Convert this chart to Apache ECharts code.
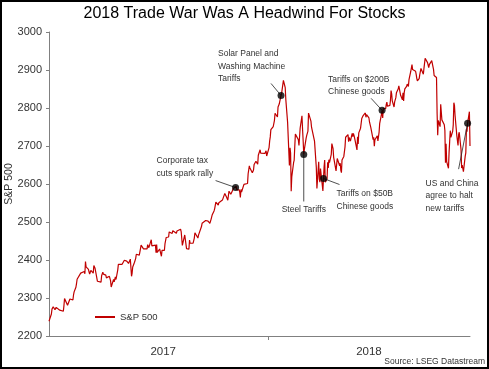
<!DOCTYPE html>
<html><head><meta charset="utf-8">
<script src="https://cdn.jsdelivr.net/npm/echarts@6/dist/echarts.min.js"></script>
<style>html,body{margin:0;padding:0;background:#fff}#c{width:489px;height:369px;position:absolute;left:0;top:0}#f{position:absolute;left:0;top:0;width:489px;height:369px;box-sizing:border-box;border:2px solid #000;pointer-events:none}</style>
</head><body><div id="c"></div><div id="f"></div>
<script>
const dates2016 = ['12-30'];
const closes2016 = [2238.83];
const dates2017 = [
'01-03','01-04','01-05','01-06','01-09','01-10','01-11','01-12','01-13','01-17','01-18','01-19','01-20','01-23','01-24','01-25','01-26','01-27','01-30','01-31',
'02-01','02-02','02-03','02-06','02-07','02-08','02-09','02-10','02-13','02-14','02-15','02-16','02-17','02-21','02-22','02-23','02-24','02-27','02-28',
'03-01','03-02','03-03','03-06','03-07','03-08','03-09','03-10','03-13','03-14','03-15','03-16','03-17','03-20','03-21','03-22','03-23','03-24','03-27','03-28','03-29','03-30','03-31',
'04-03','04-04','04-05','04-06','04-07','04-10','04-11','04-12','04-13','04-17','04-18','04-19','04-20','04-21','04-24','04-25','04-26','04-27','04-28',
'05-01','05-02','05-03','05-04','05-05','05-08','05-09','05-10','05-11','05-12','05-15','05-16','05-17','05-18','05-19','05-22','05-23','05-24','05-25','05-26','05-30','05-31',
'06-01','06-02','06-05','06-06','06-07','06-08','06-09','06-12','06-13','06-14','06-15','06-16','06-19','06-20','06-21','06-22','06-23','06-26','06-27','06-28','06-29','06-30',
'07-03','07-05','07-06','07-07','07-10','07-11','07-12','07-13','07-14','07-17','07-18','07-19','07-20','07-21','07-24','07-25','07-26','07-27','07-28','07-31',
'08-01','08-02','08-03','08-04','08-07','08-08','08-09','08-10','08-11','08-14','08-15','08-16','08-17','08-18','08-21','08-22','08-23','08-24','08-25','08-28','08-29','08-30','08-31',
'09-01','09-05','09-06','09-07','09-08','09-11','09-12','09-13','09-14','09-15','09-18','09-19','09-20','09-21','09-22','09-25','09-26','09-27','09-28','09-29',
'10-02','10-03','10-04','10-05','10-06','10-09','10-10','10-11','10-12','10-13','10-16','10-17','10-18','10-19','10-20','10-23','10-24','10-25','10-26','10-27','10-30','10-31',
'11-01','11-02','11-03','11-06','11-07','11-08','11-09','11-10','11-13','11-14','11-15','11-16','11-17','11-20','11-21','11-22','11-24','11-27','11-28','11-29','11-30',
'12-01','12-04','12-05','12-06','12-07','12-08','12-11','12-12','12-13','12-14','12-15','12-18','12-19','12-20','12-21','12-22','12-26','12-27','12-28','12-29'];
const closes2017 = [
2257.83,2270.75,2269.00,2276.98,2268.90,2268.90,2275.32,2270.44,2274.64,2267.89,2271.89,2263.69,2271.31,2265.20,2280.07,2298.37,2296.68,2294.69,2280.90,2278.87,
2279.55,2280.85,2297.42,2292.56,2293.08,2294.67,2307.87,2316.10,2328.25,2337.58,2349.25,2347.22,2351.16,2365.38,2362.82,2363.81,2367.34,2369.75,2363.64,
2395.96,2381.92,2383.12,2375.31,2368.39,2362.98,2364.87,2372.60,2373.47,2365.45,2385.26,2381.38,2378.25,2373.47,2344.02,2348.45,2345.96,2343.98,2341.59,2358.57,2361.13,2368.06,2362.72,
2358.84,2360.16,2352.95,2357.49,2355.54,2357.16,2353.78,2344.93,2328.95,2349.01,2342.19,2338.17,2355.84,2348.69,2374.15,2388.61,2387.45,2388.77,2384.20,
2388.33,2391.17,2388.13,2389.52,2399.29,2399.38,2396.92,2399.63,2394.44,2390.90,2402.32,2400.67,2357.03,2365.72,2381.73,2394.02,2398.42,2404.39,2415.07,2415.82,2412.91,2411.80,
2430.06,2439.07,2436.10,2429.33,2433.14,2433.79,2431.77,2429.39,2440.35,2437.92,2432.46,2433.15,2453.46,2437.03,2435.61,2434.50,2438.30,2439.07,2419.38,2440.69,2419.70,2423.41,
2429.01,2432.54,2409.75,2425.18,2427.43,2425.53,2443.25,2447.83,2459.27,2459.14,2460.61,2473.83,2473.45,2472.54,2469.91,2477.13,2477.83,2475.42,2472.10,2470.30,
2476.35,2477.57,2472.16,2476.83,2480.91,2474.92,2474.02,2438.21,2441.32,2465.84,2464.61,2468.11,2430.01,2425.55,2428.37,2452.51,2444.04,2438.97,2443.05,2444.24,2446.30,2457.59,2471.65,
2476.55,2457.85,2465.54,2465.10,2461.43,2488.11,2496.48,2498.37,2495.62,2500.23,2503.87,2506.65,2508.24,2500.60,2502.22,2496.66,2496.84,2507.04,2510.06,2519.36,
2529.12,2534.58,2537.74,2552.07,2549.33,2544.73,2550.64,2555.24,2550.93,2553.17,2557.64,2559.36,2561.26,2562.10,2575.21,2564.98,2569.13,2557.15,2560.40,2581.07,2572.83,2575.26,
2579.36,2579.85,2587.84,2591.13,2590.64,2594.38,2584.62,2582.30,2584.84,2578.87,2564.62,2585.64,2578.85,2582.14,2599.03,2597.08,2602.42,2601.42,2627.04,2626.07,2647.58,
2642.22,2639.44,2629.57,2629.27,2636.98,2651.50,2659.99,2664.11,2662.85,2652.01,2675.81,2690.16,2681.47,2679.25,2684.57,2683.34,2680.50,2682.62,2687.54,2673.61];
const dates2018 = [
'01-02','01-03','01-04','01-05','01-08','01-09','01-10','01-11','01-12','01-16','01-17','01-18','01-19','01-22','01-23','01-24','01-25','01-26','01-29','01-30','01-31',
'02-01','02-02','02-05','02-06','02-07','02-08','02-09','02-12','02-13','02-14','02-15','02-16','02-20','02-21','02-22','02-23','02-26','02-27','02-28',
'03-01','03-02','03-05','03-06','03-07','03-08','03-09','03-12','03-13','03-14','03-15','03-16','03-19','03-20','03-21','03-22','03-23','03-26','03-27','03-28','03-29',
'04-02','04-03','04-04','04-05','04-06','04-09','04-10','04-11','04-12','04-13','04-16','04-17','04-18','04-19','04-20','04-23','04-24','04-25','04-26','04-27','04-30',
'05-01','05-02','05-03','05-04','05-07','05-08','05-09','05-10','05-11','05-14','05-15','05-16','05-17','05-18','05-21','05-22','05-23','05-24','05-25','05-29','05-30','05-31',
'06-01','06-04','06-05','06-06','06-07','06-08','06-11','06-12','06-13','06-14','06-15','06-18','06-19','06-20','06-21','06-22','06-25','06-26','06-27','06-28','06-29',
'07-02','07-03','07-05','07-06','07-09','07-10','07-11','07-12','07-13','07-16','07-17','07-18','07-19','07-20','07-23','07-24','07-25','07-26','07-27','07-30','07-31',
'08-01','08-02','08-03','08-06','08-07','08-08','08-09','08-10','08-13','08-14','08-15','08-16','08-17','08-20','08-21','08-22','08-23','08-24','08-27','08-28','08-29','08-30','08-31',
'09-04','09-05','09-06','09-07','09-10','09-11','09-12','09-13','09-14','09-17','09-18','09-19','09-20','09-21','09-24','09-25','09-26','09-27','09-28',
'10-01','10-02','10-03','10-04','10-05','10-08','10-09','10-10','10-11','10-12','10-15','10-16','10-17','10-18','10-19','10-22','10-23','10-24','10-25','10-26','10-29','10-30','10-31',
'11-01','11-02','11-05','11-06','11-07','11-08','11-09','11-12','11-13','11-14','11-15','11-16','11-19','11-20','11-21','11-23','11-26','11-27','11-28','11-29','11-30',
'12-03','12-04'];
const closes2018 = [
2695.81,2713.06,2723.99,2743.15,2747.71,2751.29,2748.23,2767.56,2786.24,2776.42,2802.56,2798.03,2810.30,2832.97,2839.13,2837.54,2839.25,2872.87,2853.53,2822.43,2823.81,
2821.98,2762.13,2648.94,2695.14,2681.66,2581.00,2619.55,2656.00,2662.94,2698.63,2731.20,2732.22,2716.26,2701.33,2703.96,2747.30,2779.60,2744.28,2713.83,
2677.67,2691.25,2720.94,2728.12,2726.80,2738.97,2786.57,2783.02,2765.31,2749.48,2747.33,2752.01,2712.92,2716.94,2711.93,2643.69,2588.26,2658.55,2612.62,2605.00,2640.87,
2581.88,2614.45,2644.69,2662.84,2604.47,2613.16,2656.87,2642.19,2663.99,2656.30,2677.84,2706.39,2708.64,2693.13,2670.14,2670.29,2634.56,2639.40,2666.94,2669.91,2648.05,
2654.80,2635.67,2629.73,2663.42,2672.63,2671.92,2697.79,2723.07,2727.72,2730.13,2711.45,2722.46,2720.13,2712.97,2733.01,2724.44,2733.29,2727.76,2721.33,2689.86,2724.01,2705.27,
2734.62,2746.87,2748.80,2772.35,2770.37,2779.03,2782.00,2786.85,2775.63,2782.49,2779.66,2773.75,2762.59,2767.32,2749.76,2754.88,2717.07,2723.06,2699.63,2716.31,2718.37,
2726.71,2713.22,2736.61,2759.82,2784.17,2793.84,2774.02,2798.29,2801.31,2798.43,2809.55,2815.62,2804.49,2801.83,2806.98,2820.40,2846.07,2837.44,2818.82,2802.60,2816.29,
2813.36,2827.22,2840.35,2850.40,2858.45,2857.70,2853.58,2833.28,2821.93,2839.96,2818.37,2840.69,2850.13,2857.05,2862.96,2861.82,2856.98,2874.69,2896.74,2897.52,2914.04,2901.13,2901.52,
2896.72,2888.60,2878.05,2871.68,2877.13,2887.89,2888.92,2904.18,2904.98,2888.80,2904.31,2907.95,2930.75,2929.67,2919.37,2915.56,2905.97,2914.00,2913.98,
2924.59,2923.43,2925.51,2901.61,2885.57,2884.43,2880.34,2785.68,2728.37,2767.13,2750.79,2809.92,2809.21,2768.78,2767.78,2755.88,2740.69,2656.10,2705.57,2658.69,2641.25,2682.63,2711.74,
2740.37,2723.06,2738.31,2755.45,2813.89,2806.83,2781.01,2726.22,2722.18,2701.58,2730.20,2736.27,2690.73,2641.89,2649.93,2632.56,2673.45,2682.17,2743.79,2737.80,2760.17,
2790.37,2700.06];

const yTicks = [2200, 3000, 100];
const yearLabelDates = ['2017-07-09', '2018-06-18'];
const yearTickDates = ['2018-01-01'];
const axisRange = ['2016-12-30', '2018-12-04'];

const annDates = ['2017-11-07', '2018-01-22', '2018-03-01', '2018-04-03', '2018-07-10', '2018-11-30'];
const annTexts = [
  'Corporate tax\ncuts spark rally',
  'Solar Panel and\nWashing Machine\nTariffs',
  'Steel Tariffs',
  'Tariffs on $50B\nChinese goods',
  'Tariffs on $200B\nChinese goods',
  'US and China\nagree to halt\nnew tariffs'
];
// layout: text offset from dot, text align, leader line end offset from dot
const annLayout = [
  {tx: -79, ty: -33, align: 'left', lx: -20, ly: -7},
  {tx: -63, ty: -48, align: 'left', lx: -10, ly: -12},
  {tx: 0, ty: 49, align: 'center', lx: 0, ly: 47},
  {tx: 13, ty: 9, align: 'left', lx: 16, ly: 6},
  {tx: -54, ty: -37, align: 'left', lx: -11, ly: -12},
  {tx: -42, ty: 54, align: 'left', lx: -9, ly: 46}
];

function t(s) { return new Date(s + 'T00:00:00').getTime(); }
const series = [];
[['2016', dates2016, closes2016], ['2017', dates2017, closes2017], ['2018', dates2018, closes2018]].forEach(([y, ds, vs]) => {
  ds.forEach((d, i) => series.push([t(y + '-' + d), vs[i]]));
});
const lookup = {};
series.forEach(p => { lookup[p[0]] = p[1]; });
const annData = annDates.map(d => [t(d), lookup[t(d)]]);

const FONT = "'Liberation Sans', Arial, sans-serif";
const chart = echarts.init(document.getElementById('c'), null, {renderer: 'canvas'});
chart.setOption({
  animation: false,
  backgroundColor: '#fff',
  title: [
    {text: '2018 Trade War Was A Headwind For Stocks', left: 'center', top: 6, padding: 0,
     textStyle: {fontFamily: FONT, fontSize: 16, fontWeight: 'normal', color: '#000'}},
    {text: 'Source: LSEG Datastream', right: 4, top: 357, padding: 0,
     textStyle: {fontFamily: FONT, fontSize: 8.5, fontWeight: 'normal', color: '#333'}}
  ],
  legend: {
    data: [{name: 'S&P 500', icon: 'rect'}],
    left: 95, top: 312, padding: 0, itemWidth: 20, itemHeight: 2, itemGap: 5,
    textStyle: {fontFamily: FONT, fontSize: 9.5, color: '#333'}
  },
  grid: {left: 49, right: 19, top: 32, bottom: 33, containLabel: false, outerBoundsMode: 'none'},
  xAxis: {
    type: 'value', min: t(axisRange[0]), max: t(axisRange[1]), scale: true,
    axisLine: {show: true, lineStyle: {color: '#808080', width: 1}},
    axisTick: {show: true, length: 4, lineStyle: {color: '#808080'}, customValues: yearTickDates.map(t)},
    axisLabel: {show: true, margin: 10, fontFamily: FONT, fontSize: 11.5, color: '#333',
      customValues: yearLabelDates.map(t), formatter: v => String(new Date(v).getFullYear())},
    splitLine: {show: false}, minorTick: {show: false}
  },
  yAxis: {
    type: 'value', min: yTicks[0], max: yTicks[1], interval: yTicks[2],
    name: 'S&P 500', nameLocation: 'middle', nameGap: 34, nameRotate: 90, nameMoveOverlap: false,
    nameTextStyle: {fontFamily: FONT, fontSize: 10.5, color: '#333'},
    axisLine: {show: true, lineStyle: {color: '#808080', width: 1}},
    axisTick: {show: true, length: 3, lineStyle: {color: '#808080'}},
    axisLabel: {margin: 7, fontFamily: FONT, fontSize: 11, color: '#333', formatter: v => String(v)},
    splitLine: {show: false}
  },
  series: [
    {name: 'S&P 500', type: 'line', data: series, showSymbol: false, symbol: 'none',
     lineStyle: {color: '#c00000', width: 1.2}, itemStyle: {color: '#c00000'}, z: 2},
    {name: 'events', type: 'scatter', data: annData, symbolSize: 7,
     itemStyle: {color: '#000'}, z: 5}
  ]
});

const gr = [];
annData.forEach((p, i) => {
  const px = chart.convertToPixel({gridIndex: 0}, p);
  const L = annLayout[i];
  gr.push({type: 'line', shape: {x1: px[0], y1: px[1], x2: px[0] + L.lx, y2: px[1] + L.ly},
    style: {stroke: '#222', lineWidth: 0.8}, z: 4, silent: true});
  gr.push({type: 'text', x: px[0] + L.tx, y: px[1] + L.ty, z: 6, silent: true,
    style: {text: annTexts[i], align: L.align, verticalAlign: 'top', lineHeight: 12.5,
      font: '8.5px ' + FONT, fill: '#333'}});
});
chart.setOption({graphic: gr});
</script></body></html>
